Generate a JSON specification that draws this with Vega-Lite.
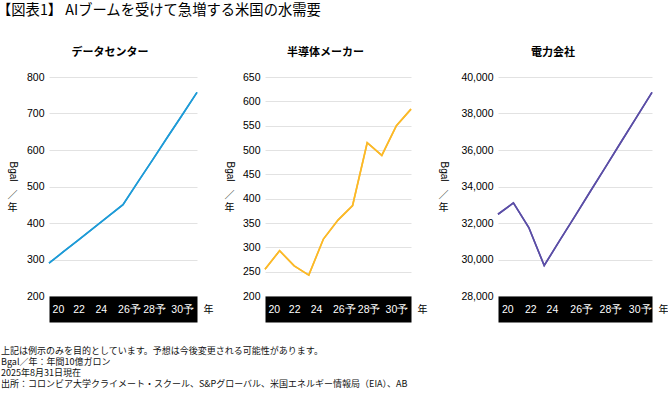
{
  "$schema": "https://vega.github.io/schema/vega-lite/v6.json",
  "background": "white",
  "padding": {"left": -3, "top": 3, "right": 0, "bottom": 0},
  "title": {"text": "【図表1】 AIブームを受けて急増する米国の水需要", "anchor": "start", "frame": "bounds", "dx": -4, "font": "Noto Sans CJK JP", "fontSize": 14.3, "fontWeight": "normal", "color": "#000", "offset": 29},
  "vconcat": [
    {
      "title": {
        "text": ["上記は例示のみを目的としています。予想は今後変更される可能性があります。", "Bgal／年：年間10億ガロン", "2025年8月31日現在", "出所：コロンビア大学クライメート・スクール、S&Pグローバル、米国エネルギー情報局（EIA）、AB"],
        "orient": "bottom", "anchor": "start", "frame": "bounds", "dx": -6, "font": "Noto Sans CJK JP", "fontSize": 9, "fontWeight": "normal", "lineHeight": 11.2, "offset": 32, "color": "#111"
      },
      "spacing": 11,
      "hconcat": [
        {
          "width": 148, "height": 219,
          "title": {"text": "データセンター", "frame": "bounds", "anchor": "middle", "font": "Noto Sans CJK JP", "fontSize": 11, "fontWeight": "bold", "color": "#000", "offset": 14},
          "data": {"values": [
            {"year": 2020, "value": 290}, {"year": 2021, "value": 322}, {"year": 2022, "value": 354}, {"year": 2023, "value": 386}, {"year": 2024, "value": 418}, {"year": 2025, "value": 450},
            {"year": 2026, "value": 512}, {"year": 2027, "value": 573}, {"year": 2028, "value": 635}, {"year": 2029, "value": 696}, {"year": 2030, "value": 758}
          ]},
          "layer": [
            {
              "mark": {"type": "line", "color": "#1e9bd7", "strokeWidth": 1.6},
              "encoding": {
                "x": {"field": "year", "type": "quantitative", "scale": {"domain": [2020, 2030], "nice": false, "zero": false},
                  "axis": {"orient": "bottom", "labels": false, "title": "年", "titleX": 159, "titleY": 0}},
                "y": {"field": "value", "type": "quantitative", "scale": {"domain": [200, 800], "nice": false, "zero": false},
                  "axis": {"orient": "left", "values": [200, 300, 400, 500, 600, 700, 800], "title": "Bgal", "titleAngle": 90, "titleFont": "Liberation Sans", "titleX": -37, "titleY": 94}}
              }
            },
            {
              "mark": {"type": "line", "color": "#1e9bd7", "strokeWidth": 1.6},
              "encoding": {
                "x": {"field": "year", "type": "quantitative",
                  "axis": {"orient": "bottom", "domain": false, "zindex": 2, "values": [2020.6, 2022, 2023.5, 2025.4, 2027.1, 2029], "labelExpr": "datum.value < 2021 ? '20' : datum.value < 2023 ? '22' : datum.value < 2024 ? '24' : datum.value < 2026 ? '26予' : datum.value < 2028 ? '28予' : '30予'", "title": null}},
                "y": {"field": "value", "type": "quantitative",
                  "axis": {"orient": "left", "labels": false, "grid": false, "title": ["／", "年"], "titleAngle": 0, "titleX": -37, "titleY": 118, "titleLineHeight": 12}}
              }
            }
          ],
          "resolve": {"axis": {"x": "independent", "y": "independent"}}
        },
        {
          "width": 146, "height": 219,
          "title": {"text": "半導体メーカー", "frame": "bounds", "anchor": "middle", "font": "Noto Sans CJK JP", "fontSize": 11, "fontWeight": "bold", "color": "#000", "offset": 14},
          "data": {"values": [
            {"year": 2020, "value": 255}, {"year": 2021, "value": 293}, {"year": 2022, "value": 262}, {"year": 2023, "value": 243}, {"year": 2024, "value": 317}, {"year": 2025, "value": 356},
            {"year": 2026, "value": 386}, {"year": 2027, "value": 515}, {"year": 2028, "value": 489}, {"year": 2029, "value": 550}, {"year": 2030, "value": 584}
          ]},
          "layer": [
            {
              "mark": {"type": "line", "color": "#fbb928", "strokeWidth": 1.6},
              "encoding": {
                "x": {"field": "year", "type": "quantitative", "scale": {"domain": [2020, 2030], "nice": false, "zero": false},
                  "axis": {"orient": "bottom", "labels": false, "title": "年", "titleX": 157, "titleY": 0}},
                "y": {"field": "value", "type": "quantitative", "scale": {"domain": [200, 650], "nice": false, "zero": false},
                  "axis": {"orient": "left", "values": [200, 250, 300, 350, 400, 450, 500, 550, 600, 650], "title": "Bgal", "titleAngle": 90, "titleFont": "Liberation Sans", "titleX": -36, "titleY": 94}}
              }
            },
            {
              "mark": {"type": "line", "color": "#fbb928", "strokeWidth": 1.6},
              "encoding": {
                "x": {"field": "year", "type": "quantitative",
                  "axis": {"orient": "bottom", "domain": false, "zindex": 2, "values": [2020.6, 2022, 2023.5, 2025.4, 2027.1, 2029], "labelExpr": "datum.value < 2021 ? '20' : datum.value < 2023 ? '22' : datum.value < 2024 ? '24' : datum.value < 2026 ? '26予' : datum.value < 2028 ? '28予' : '30予'", "title": null}},
                "y": {"field": "value", "type": "quantitative",
                  "axis": {"orient": "left", "labels": false, "grid": false, "title": ["／", "年"], "titleAngle": 0, "titleX": -36, "titleY": 118, "titleLineHeight": 12}}
              }
            }
          ],
          "resolve": {"axis": {"x": "independent", "y": "independent"}}
        },
        {
          "width": 154, "height": 219,
          "title": {"text": "電力会社", "frame": "bounds", "anchor": "middle", "font": "Noto Sans CJK JP", "fontSize": 11, "fontWeight": "bold", "color": "#000", "offset": 14},
          "data": {"values": [
            {"year": 2020, "value": 32480}, {"year": 2021, "value": 33100}, {"year": 2022, "value": 31750}, {"year": 2023, "value": 29670}, {"year": 2024, "value": 31030}, {"year": 2025, "value": 32380},
            {"year": 2026, "value": 33740}, {"year": 2027, "value": 35090}, {"year": 2028, "value": 36450}, {"year": 2029, "value": 37800}, {"year": 2030, "value": 39160}
          ]},
          "layer": [
            {
              "mark": {"type": "line", "color": "#5b4ea6", "strokeWidth": 1.6},
              "encoding": {
                "x": {"field": "year", "type": "quantitative", "scale": {"domain": [2020, 2030], "nice": false, "zero": false},
                  "axis": {"orient": "bottom", "labels": false, "title": "年", "titleX": 165, "titleY": 0}},
                "y": {"field": "value", "type": "quantitative", "scale": {"domain": [28000, 40000], "nice": false, "zero": false},
                  "axis": {"orient": "left", "values": [28000, 30000, 32000, 34000, 36000, 38000, 40000], "format": ",.0f", "title": "Bgal", "titleAngle": 90, "titleFont": "Liberation Sans", "titleX": -55, "titleY": 94}}
              }
            },
            {
              "mark": {"type": "line", "color": "#5b4ea6", "strokeWidth": 1.6},
              "encoding": {
                "x": {"field": "year", "type": "quantitative",
                  "axis": {"orient": "bottom", "domain": false, "zindex": 2, "values": [2020.6, 2022.1, 2023.5, 2025.4, 2027.3, 2029.2], "labelExpr": "datum.value < 2021 ? '20' : datum.value < 2023 ? '22' : datum.value < 2024 ? '24' : datum.value < 2026 ? '26予' : datum.value < 2028 ? '28予' : '30予'", "title": null}},
                "y": {"field": "value", "type": "quantitative",
                  "axis": {"orient": "left", "labels": false, "grid": false, "title": ["／", "年"], "titleAngle": 0, "titleX": -55, "titleY": 118, "titleLineHeight": 12}}
              }
            }
          ],
          "resolve": {"axis": {"x": "independent", "y": "independent"}}
        }
      ]
    }
  ],
  "config": {
    "view": {"stroke": null},
    "axisX": {"domainColor": "#000", "domainWidth": 26, "offset": 13, "ticks": false, "grid": false, "labelColor": "#fff", "labelFont": "Liberation Sans", "labelFontSize": 10.5, "labelPadding": 0, "labelBaseline": "middle", "labelOverlap": false, "labelFlush": false, "titleFont": "Noto Sans CJK JP", "titleFontSize": 10, "titleFontWeight": "normal", "titleColor": "#000", "titleAlign": "center", "titleBaseline": "middle", "titleAngle": 0},
    "axisY": {"domain": false, "ticks": false, "grid": true, "gridColor": "#e2e2e2", "gridWidth": 1, "labelFont": "Liberation Sans", "labelFontSize": 10.5, "labelColor": "#000", "labelPadding": 5, "labelFlush": false, "labelOverlap": false, "titleFont": "Noto Sans CJK JP", "titleFontSize": 10, "titleFontWeight": "normal", "titleColor": "#000", "titleAlign": "center", "titleBaseline": "middle"}
  }
}
